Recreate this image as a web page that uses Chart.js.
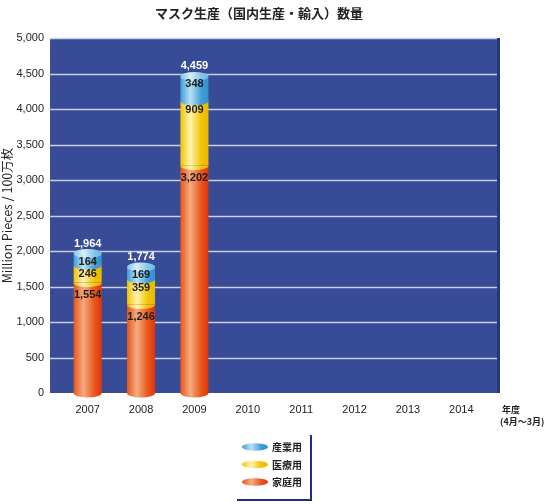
<!DOCTYPE html>
<html><head><meta charset="utf-8">
<script src="https://cdn.jsdelivr.net/npm/chart.js@4"></script>
<style>html,body{margin:0;padding:0;background:#fff}#wrap{width:546px;height:504px;position:relative}</style>
</head><body><div id="wrap"><canvas id="c" width="546" height="504"></canvas></div>
<script>
const years = ['2007','2008','2009','2010','2011','2012','2013','2014'];
const household = [1554, 1246, 3202, null, null, null, null, null];
const medical = [246, 359, 909, null, null, null, null, null];
const industrial = [164, 169, 348, null, null, null, null, null];
const totals = [1964, 1774, 4459, null, null, null, null, null];
const seriesNames = ['家庭用', '医療用', '産業用'];
const chartTitle = 'マスク生産（国内生産・輸入）数量';
const yTitle = 'Million Pieces / 100万枚';
const xUnit = ['年度', '(4月〜3月)'];

const LAT = "'Liberation Sans', Arial, sans-serif";
const JP = "'Noto Sans CJK JP', sans-serif";

const palettes = [
  { edgeL: '#e8561a', hi: '#f5ab80', edgeR: '#e3340a' },
  { edgeL: '#f0c400', hi: '#fff4b0', edgeR: '#eab800' },
  { edgeL: '#3f9ed8', hi: '#b8e2f5', edgeR: '#3590d0' }
];
const capPal = { edgeL: '#82c6ea', hi: '#d8eff9', edgeR: '#72baE2' };

function grad(ctx, x0, x1, p) {
  const g = ctx.createLinearGradient(x0, 0, x1, 0);
  g.addColorStop(0, p.edgeL);
  g.addColorStop(0.35, p.hi);
  g.addColorStop(0.75, p.edgeL);
  g.addColorStop(1, p.edgeR);
  return g;
}

function barFill(di) {
  return (context) => {
    const chart = context.chart;
    if (!chart.chartArea || !chart.scales.x) return palettes[di].edgeL;
    const xs = chart.scales.x;
    const cx = xs.getPixelForValue(context.dataIndex);
    const step = xs.getPixelForValue(1) - xs.getPixelForValue(0);
    const half = step * 0.525 / 2;
    return grad(chart.ctx, cx - half, cx + half, palettes[di]);
  };
}

const RY = 4.5;
const labelOffsets = [12, 8.5, 8];

const cylPlugin = {
  id: 'cyl',
  beforeDraw(chart) {
    const ctx = chart.ctx;
    const a = chart.chartArea;
    const ys = chart.scales.y;
    const L = a.left - 11, R = a.right + 12;
    ctx.save();
    ctx.fillStyle = '#ffffff';
    ctx.fillRect(0, 0, chart.width, chart.height);
    ctx.fillStyle = '#374b97';
    ctx.fillRect(L, a.top, R - L, a.bottom - a.top);
    ctx.strokeStyle = '#c9cfe8';
    ctx.lineWidth = 1.5;
    ys.ticks.forEach(t => {
      if (t.value <= 0) return;
      const y = Math.round(ys.getPixelForValue(t.value)) + 0.5;
      ctx.beginPath();
      ctx.moveTo(L, y);
      ctx.lineTo(R - 3, y);
      ctx.stroke();
    });
    ctx.fillStyle = '#25377f';
    ctx.fillRect(R - 3, a.top, 3, a.bottom - a.top);
    ctx.fillStyle = '#222';
    ctx.font = "bold 13px " + JP;
    ctx.textAlign = 'center';
    ctx.textBaseline = 'middle';
    ctx.fillText(chartTitle, 259, 13);
    ctx.restore();
  },
  afterDatasetsDraw(chart) {
    const ctx = chart.ctx;
    const n = chart.data.datasets.length;
    ctx.save();
    for (let di = 0; di < n; di++) {
      const meta = chart.getDatasetMeta(di);
      meta.data.forEach((el, i) => {
        const v = chart.data.datasets[di].data[i];
        if (v == null) return;
        const w = el.width;
        ctx.beginPath();
        ctx.ellipse(el.x, el.base, w / 2, RY, 0, 0, Math.PI);
        ctx.closePath();
        ctx.fillStyle = grad(ctx, el.x - w / 2, el.x + w / 2, palettes[di]);
        ctx.fill();
      });
    }
    const topMeta = chart.getDatasetMeta(n - 1);
    topMeta.data.forEach((el, i) => {
      if (chart.data.datasets[n - 1].data[i] == null) return;
      const w = el.width;
      ctx.beginPath();
      ctx.ellipse(el.x, el.y, w / 2, RY, 0, 0, Math.PI * 2);
      ctx.fillStyle = grad(ctx, el.x - w / 2, el.x + w / 2, capPal);
      ctx.fill();
    });
    ctx.textAlign = 'center';
    ctx.textBaseline = 'middle';
    ctx.font = "bold 11px " + LAT;
    ctx.fillStyle = '#1e1e1e';
    for (let di = 0; di < n; di++) {
      const meta = chart.getDatasetMeta(di);
      meta.data.forEach((el, i) => {
        const v = chart.data.datasets[di].data[i];
        if (v == null) return;
        ctx.fillText(v.toLocaleString('en-US'), el.x, el.y + labelOffsets[di]);
      });
    }
    ctx.fillStyle = '#ffffff';
    topMeta.data.forEach((el, i) => {
      if (totals[i] == null) return;
      ctx.fillText(totals[i].toLocaleString('en-US'), el.x, el.y - 10);
    });
    ctx.restore();
  },
  afterDraw(chart) {
    const ctx = chart.ctx;
    const a = chart.chartArea;
    ctx.save();
    ctx.fillStyle = '#222';
    ctx.font = "bold 9px " + JP;
    ctx.textAlign = 'left';
    ctx.textBaseline = 'middle';
    ctx.fillText(xUnit[0], a.right + 14, 410);
    ctx.fillText(xUnit[1], a.right + 12, 422);
    const items = chart.data.datasets.map((d, i) => ({ label: d.label, i })).reverse();
    items.forEach((it, k) => {
      const cy = 447 + k * 17.5;
      const x0 = 242, x1 = 268;
      ctx.beginPath();
      ctx.ellipse((x0 + x1) / 2, cy, (x1 - x0) / 2, 3.8, 0, 0, Math.PI * 2);
      ctx.fillStyle = grad(ctx, x0, x1, palettes[it.i]);
      ctx.fill();
      ctx.fillStyle = '#222';
      ctx.font = "bold 10px " + JP;
      ctx.fillText(it.label, 272, cy + 0.5);
    });
    ctx.strokeStyle = '#1c2d8c';
    ctx.lineWidth = 2;
    ctx.beginPath();
    ctx.moveTo(311, 435);
    ctx.lineTo(311, 500);
    ctx.lineTo(237, 500);
    ctx.stroke();
    ctx.restore();
  }
};

new Chart(document.getElementById('c'), {
  type: 'bar',
  data: {
    labels: years,
    datasets: [
      { label: seriesNames[0], data: household, backgroundColor: barFill(0), borderWidth: 0 },
      { label: seriesNames[1], data: medical, backgroundColor: barFill(1), borderWidth: 0 },
      { label: seriesNames[2], data: industrial, backgroundColor: barFill(2), borderWidth: 0 }
    ]
  },
  options: {
    responsive: false,
    animation: false,
    devicePixelRatio: 1,
    layout: { padding: { top: 38, right: 58, bottom: 0, left: 0 } },
    datasets: { bar: { categoryPercentage: 1, barPercentage: 0.525 } },
    plugins: { legend: { display: false }, title: { display: false }, tooltip: { enabled: false } },
    scales: {
      x: {
        stacked: true,
        grid: { display: false, drawTicks: false },
        border: { display: false },
        ticks: { padding: 10, color: '#222', font: { family: LAT, size: 11 }, maxRotation: 0 },
        afterFit(s) { s.height = 111; }
      },
      y: {
        stacked: true,
        min: 0, max: 5000,
        grid: { display: false, drawTicks: false },
        border: { display: false },
        ticks: { stepSize: 500, padding: 17, color: '#222', font: { family: LAT, size: 11 },
          callback: v => v.toLocaleString('en-US') },
        title: { display: true, text: yTitle, color: '#222', font: { family: JP, size: 12.5 }, padding: { top: 0, bottom: 0 } },
        afterFit(s) { s.width = 61; }
      }
    }
  },
  plugins: [cylPlugin]
});
</script>
</body></html>
